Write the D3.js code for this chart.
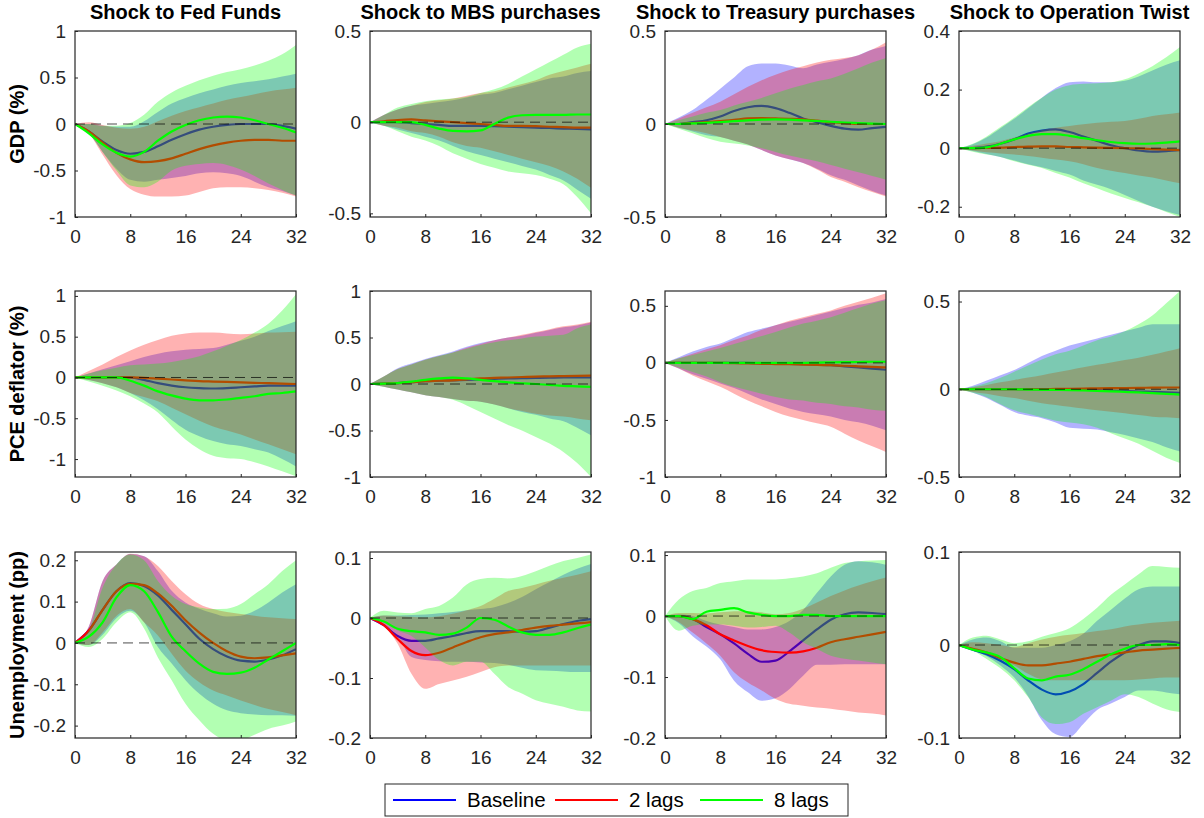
<!DOCTYPE html>
<html><head><meta charset="utf-8">
<script src="https://cdn.jsdelivr.net/npm/d3@7"></script>
<style>
body{margin:0;background:#fff}
svg{display:block}
text{font-family:"Liberation Sans",Arial,Helvetica,sans-serif}
</style>
</head><body>
<svg id="c" width="1204" height="818"></svg>
<script>
// ---------- categories / labels ----------
const quarters = [0,2,4,6,8,10,12,14,16,18,20,22,24,26,28,30,32];
const colTitles = ["Shock to Fed Funds","Shock to MBS purchases","Shock to Treasury purchases","Shock to Operation Twist"];
const rowLabels = ["GDP (%)","PCE deflator (%)","Unemployment (pp)"];
const seriesNames = ["Baseline","2 lags","8 lags"];
const seriesColors = ["#0000ff","#ff0000","#00ff00"];
const xTicks = [0,8,16,24,32];

// y domains and ticks, row-major
const yDomains = [[-1,1],[-0.52,0.5],[-0.5,0.5],[-0.235,0.4],
                  [-1.22,1.06],[-1,1],[-1,0.63],[-0.5,0.56],
                  [-0.23,0.22],[-0.2,0.11],[-0.2,0.105],[-0.1,0.1]];
const yTicks = [[-1,-0.5,0,0.5,1],[-0.5,0,0.5],[-0.5,0,0.5],[-0.2,0,0.2,0.4],
                [-1,-0.5,0,0.5,1],[-1,-0.5,0,0.5,1],[-1,-0.5,0,0.5],[-0.5,0,0.5],
                [-0.2,-0.1,0,0.1,0.2],[-0.2,-0.1,0,0.1],[-0.2,-0.1,0,0.1],[-0.1,0,0.1]];

// ---------- GDP, Fed Funds ----------
const gdp_ff_base_mid = [0,-0.08,-0.19,-0.28,-0.32,-0.3,-0.24,-0.17,-0.11,-0.06,-0.03,-0.01,0.0,0.0,0.0,-0.02,-0.05];
const gdp_ff_base_lo  = [0,-0.1,-0.3,-0.48,-0.6,-0.62,-0.6,-0.58,-0.56,-0.53,-0.52,-0.53,-0.56,-0.62,-0.68,-0.72,-0.77];
const gdp_ff_base_hi  = [0,0,-0.02,-0.03,-0.03,0.03,0.13,0.22,0.28,0.33,0.37,0.41,0.44,0.46,0.48,0.51,0.54];
const gdp_ff_l2_mid = [0,-0.08,-0.2,-0.31,-0.38,-0.41,-0.4,-0.37,-0.32,-0.27,-0.23,-0.2,-0.18,-0.17,-0.17,-0.18,-0.18];
const gdp_ff_l2_lo  = [0,-0.1,-0.33,-0.55,-0.7,-0.76,-0.78,-0.78,-0.77,-0.73,-0.69,-0.68,-0.68,-0.69,-0.71,-0.74,-0.78];
const gdp_ff_l2_hi  = [0,0.02,-0.01,-0.04,-0.05,-0.03,0.03,0.09,0.14,0.18,0.22,0.26,0.29,0.32,0.35,0.37,0.39];
const gdp_ff_l8_mid = [0,-0.1,-0.22,-0.31,-0.35,-0.3,-0.18,-0.08,-0.01,0.04,0.07,0.08,0.07,0.04,0.0,-0.04,-0.09];
const gdp_ff_l8_lo  = [0,-0.1,-0.3,-0.5,-0.66,-0.68,-0.62,-0.5,-0.45,-0.43,-0.42,-0.44,-0.49,-0.56,-0.64,-0.71,-0.77];
const gdp_ff_l8_hi  = [0,0,-0.02,-0.02,0.01,0.1,0.24,0.34,0.41,0.47,0.52,0.56,0.59,0.63,0.68,0.75,0.85];

// ---------- GDP, MBS ----------
const gdp_mbs_base_mid = [0,0,0,-0.005,-0.01,-0.015,-0.02,-0.02,-0.02,-0.022,-0.025,-0.027,-0.03,-0.032,-0.035,-0.037,-0.04];
const gdp_mbs_base_lo  = [0,-0.02,-0.04,-0.06,-0.08,-0.1,-0.13,-0.16,-0.18,-0.2,-0.22,-0.24,-0.26,-0.29,-0.32,-0.37,-0.42];
const gdp_mbs_base_hi  = [0,0.04,0.07,0.09,0.1,0.11,0.12,0.135,0.15,0.16,0.18,0.2,0.22,0.24,0.25,0.27,0.28];
const gdp_mbs_l2_mid = [0,0.005,0.012,0.015,0.01,0.005,0,-0.005,-0.01,-0.015,-0.02,-0.02,-0.022,-0.025,-0.027,-0.03,-0.03];
const gdp_mbs_l2_lo  = [0,-0.02,-0.03,-0.05,-0.06,-0.08,-0.11,-0.13,-0.14,-0.16,-0.18,-0.2,-0.22,-0.24,-0.27,-0.31,-0.36];
const gdp_mbs_l2_hi  = [0,0.04,0.07,0.09,0.11,0.12,0.13,0.145,0.16,0.17,0.19,0.21,0.23,0.26,0.28,0.3,0.32];
const gdp_mbs_l8_mid = [0,0,0,0,-0.015,-0.035,-0.048,-0.05,-0.045,-0.01,0.025,0.038,0.04,0.04,0.04,0.042,0.042];
const gdp_mbs_l8_lo  = [0,-0.02,-0.05,-0.08,-0.1,-0.13,-0.17,-0.2,-0.23,-0.25,-0.27,-0.28,-0.29,-0.31,-0.34,-0.41,-0.5];
const gdp_mbs_l8_hi  = [0,0.04,0.08,0.1,0.115,0.125,0.13,0.14,0.16,0.18,0.21,0.25,0.29,0.33,0.37,0.41,0.43];

// ---------- GDP, Treasury ----------
const gdp_tsy_base_mid = [0,0.0,0.01,0.02,0.04,0.07,0.09,0.097,0.085,0.06,0.03,0.01,-0.01,-0.025,-0.03,-0.022,-0.015];
const gdp_tsy_base_lo  = [0,-0.02,-0.04,-0.06,-0.07,-0.09,-0.11,-0.14,-0.17,-0.19,-0.21,-0.24,-0.275,-0.3,-0.33,-0.36,-0.385];
const gdp_tsy_base_hi  = [0,0.035,0.075,0.13,0.19,0.25,0.31,0.325,0.325,0.315,0.3,0.32,0.335,0.35,0.37,0.4,0.42];
const gdp_tsy_l2_mid = [0,0.0,0.005,0.01,0.015,0.022,0.03,0.032,0.03,0.028,0.025,0.018,0.01,0.005,0.0,0.0,0.0];
const gdp_tsy_l2_lo  = [0,-0.02,-0.035,-0.05,-0.07,-0.09,-0.11,-0.14,-0.17,-0.19,-0.21,-0.245,-0.285,-0.31,-0.34,-0.365,-0.39];
const gdp_tsy_l2_hi  = [0,0.03,0.06,0.09,0.12,0.16,0.2,0.235,0.265,0.29,0.31,0.33,0.345,0.355,0.37,0.4,0.44];
const gdp_tsy_l8_mid = [0,0.0,0.003,0.006,0.01,0.015,0.02,0.023,0.025,0.023,0.02,0.016,0.012,0.008,0.005,0.002,0.0];
const gdp_tsy_l8_lo  = [0,-0.025,-0.05,-0.075,-0.095,-0.105,-0.115,-0.13,-0.15,-0.17,-0.185,-0.2,-0.22,-0.24,-0.26,-0.28,-0.3];
const gdp_tsy_l8_hi  = [0,0.02,0.04,0.06,0.075,0.1,0.12,0.14,0.165,0.19,0.21,0.23,0.245,0.27,0.3,0.33,0.355];

// ---------- GDP, Operation Twist ----------
const gdp_ot_base_mid = [0,0.0,0.005,0.015,0.03,0.05,0.06,0.064,0.055,0.04,0.025,0.01,0.0,-0.008,-0.012,-0.01,-0.006];
const gdp_ot_base_lo  = [0,-0.01,-0.02,-0.03,-0.042,-0.055,-0.065,-0.078,-0.09,-0.11,-0.125,-0.14,-0.16,-0.18,-0.2,-0.215,-0.228];
const gdp_ot_base_hi  = [0,0.013,0.036,0.068,0.1,0.136,0.172,0.205,0.225,0.228,0.225,0.225,0.23,0.245,0.265,0.285,0.3];
const gdp_ot_l2_mid = [0,0,0.001,0.002,0.004,0.005,0.006,0.006,0.004,0.003,0.002,0.001,0,-0.001,-0.003,-0.005,-0.007];
const gdp_ot_l2_lo  = [0,-0.008,-0.014,-0.018,-0.022,-0.027,-0.033,-0.039,-0.045,-0.055,-0.068,-0.077,-0.085,-0.093,-0.1,-0.11,-0.12];
const gdp_ot_l2_hi  = [0,0.008,0.016,0.024,0.036,0.05,0.062,0.07,0.076,0.082,0.087,0.09,0.093,0.1,0.11,0.116,0.122];
const gdp_ot_l8_mid = [0,0,0.003,0.015,0.03,0.042,0.048,0.048,0.042,0.034,0.027,0.021,0.017,0.015,0.016,0.019,0.023];
const gdp_ot_l8_lo  = [0,-0.012,-0.022,-0.03,-0.045,-0.057,-0.068,-0.085,-0.1,-0.12,-0.137,-0.155,-0.17,-0.185,-0.2,-0.218,-0.235];
const gdp_ot_l8_hi  = [0,0.015,0.04,0.072,0.105,0.14,0.172,0.2,0.215,0.22,0.222,0.225,0.235,0.255,0.28,0.31,0.345];

// ---------- PCE, Fed Funds ----------
const pce_ff_base_mid = [0,0,0,0,0,-0.03,-0.07,-0.1,-0.12,-0.13,-0.135,-0.13,-0.12,-0.11,-0.1,-0.1,-0.1];
const pce_ff_base_lo  = [0,-0.03,-0.07,-0.12,-0.19,-0.28,-0.39,-0.52,-0.64,-0.72,-0.78,-0.82,-0.84,-0.88,-0.92,-1.0,-1.09];
const pce_ff_base_hi  = [0,0.05,0.1,0.15,0.2,0.25,0.29,0.32,0.34,0.35,0.36,0.4,0.45,0.5,0.57,0.63,0.69];
const pce_ff_l2_mid = [0,0,0,0,0,-0.005,-0.015,-0.025,-0.035,-0.045,-0.05,-0.055,-0.06,-0.065,-0.07,-0.075,-0.08];
const pce_ff_l2_lo  = [0,-0.03,-0.07,-0.12,-0.19,-0.24,-0.29,-0.37,-0.45,-0.53,-0.6,-0.65,-0.7,-0.76,-0.82,-0.88,-0.94];
const pce_ff_l2_hi  = [0,0.08,0.16,0.25,0.33,0.4,0.46,0.51,0.54,0.55,0.55,0.54,0.53,0.54,0.55,0.555,0.56];
const pce_ff_l8_mid = [0,0,0,0,-0.04,-0.1,-0.17,-0.22,-0.26,-0.28,-0.28,-0.27,-0.25,-0.23,-0.2,-0.19,-0.17];
const pce_ff_l8_lo  = [0,-0.05,-0.1,-0.16,-0.23,-0.32,-0.43,-0.6,-0.76,-0.88,-0.96,-0.99,-1.0,-1.04,-1.09,-1.15,-1.21];
const pce_ff_l8_hi  = [0,0.05,0.09,0.12,0.15,0.16,0.17,0.19,0.22,0.26,0.32,0.39,0.46,0.55,0.66,0.82,1.02];

// ---------- PCE, MBS ----------
const pce_mbs_base_mid = [0,0.005,0.01,0.02,0.03,0.035,0.04,0.045,0.05,0.055,0.06,0.063,0.066,0.068,0.07,0.07,0.07];
const pce_mbs_base_lo  = [0,-0.03,-0.06,-0.09,-0.12,-0.14,-0.16,-0.18,-0.19,-0.22,-0.26,-0.3,-0.33,-0.37,-0.4,-0.47,-0.55];
const pce_mbs_base_hi  = [0,0.08,0.17,0.22,0.27,0.31,0.35,0.4,0.44,0.47,0.5,0.52,0.55,0.58,0.61,0.63,0.66];
const pce_mbs_l2_mid = [0,0.005,0.01,0.02,0.03,0.035,0.04,0.05,0.06,0.065,0.07,0.075,0.08,0.082,0.085,0.088,0.09];
const pce_mbs_l2_lo  = [0,-0.03,-0.06,-0.09,-0.12,-0.14,-0.16,-0.18,-0.19,-0.22,-0.26,-0.29,-0.32,-0.34,-0.35,-0.37,-0.39];
const pce_mbs_l2_hi  = [0,0.08,0.16,0.21,0.26,0.3,0.34,0.39,0.43,0.47,0.5,0.53,0.56,0.59,0.62,0.64,0.67];
const pce_mbs_l8_mid = [0,0.003,0.01,0.025,0.045,0.06,0.068,0.06,0.045,0.03,0.018,0.008,0.0,-0.01,-0.02,-0.025,-0.03];
const pce_mbs_l8_lo  = [0,-0.03,-0.06,-0.09,-0.12,-0.14,-0.17,-0.23,-0.3,-0.37,-0.44,-0.5,-0.57,-0.64,-0.73,-0.85,-1.0];
const pce_mbs_l8_hi  = [0,0.08,0.16,0.21,0.26,0.3,0.34,0.38,0.42,0.45,0.47,0.49,0.51,0.52,0.53,0.6,0.64];

// ---------- PCE, Treasury ----------
const pce_tsy_base_mid = [0,0,0,0,0,0,0,-0.003,-0.005,-0.008,-0.012,-0.016,-0.02,-0.03,-0.04,-0.05,-0.06];
const pce_tsy_base_lo  = [0,-0.05,-0.1,-0.14,-0.18,-0.22,-0.27,-0.32,-0.36,-0.4,-0.43,-0.45,-0.47,-0.5,-0.52,-0.55,-0.59];
const pce_tsy_base_hi  = [0,0.05,0.1,0.14,0.17,0.22,0.27,0.3,0.33,0.36,0.39,0.42,0.45,0.48,0.51,0.53,0.56];
const pce_tsy_l2_mid = [0,0,0,0,0,-0.003,-0.005,-0.008,-0.01,-0.012,-0.015,-0.018,-0.02,-0.025,-0.03,-0.035,-0.04];
const pce_tsy_l2_lo  = [0,-0.05,-0.11,-0.16,-0.21,-0.27,-0.33,-0.38,-0.43,-0.47,-0.5,-0.53,-0.56,-0.62,-0.68,-0.73,-0.78];
const pce_tsy_l2_hi  = [0,0.04,0.08,0.12,0.155,0.2,0.24,0.29,0.33,0.37,0.4,0.43,0.46,0.5,0.535,0.57,0.61];
const pce_tsy_l8_mid = [0,0,0,0,0,0,0,0,0,0,0,0.003,0.005,0.007,0.008,0.01,0.01];
const pce_tsy_l8_lo  = [0,-0.04,-0.08,-0.12,-0.17,-0.21,-0.24,-0.27,-0.3,-0.32,-0.33,-0.35,-0.36,-0.38,-0.39,-0.41,-0.42];
const pce_tsy_l8_hi  = [0,0.04,0.07,0.1,0.13,0.165,0.2,0.235,0.27,0.31,0.345,0.37,0.4,0.44,0.48,0.52,0.55];

// ---------- PCE, Operation Twist ----------
const pce_ot_base_mid = [0,0,0,0,0,0,0,0,0,-0.002,-0.005,-0.008,-0.01,-0.013,-0.015,-0.018,-0.02];
const pce_ot_base_lo  = [0,-0.02,-0.05,-0.09,-0.13,-0.15,-0.165,-0.19,-0.22,-0.225,-0.23,-0.245,-0.26,-0.28,-0.3,-0.33,-0.355];
const pce_ot_base_hi  = [0,0.02,0.05,0.08,0.11,0.15,0.19,0.22,0.25,0.27,0.29,0.31,0.33,0.35,0.37,0.37,0.37];
const pce_ot_l2_mid = [0,0,0,0,0,0,0,0.002,0.003,0.004,0.005,0.006,0.007,0.008,0.009,0.01,0.01];
const pce_ot_l2_lo  = [0,-0.015,-0.025,-0.04,-0.05,-0.065,-0.08,-0.09,-0.1,-0.11,-0.12,-0.128,-0.137,-0.147,-0.156,-0.16,-0.165];
const pce_ot_l2_hi  = [0,0.012,0.025,0.04,0.053,0.067,0.08,0.095,0.11,0.125,0.14,0.153,0.167,0.18,0.196,0.215,0.234];
const pce_ot_l8_mid = [0,0,0,0,0,-0.002,-0.003,-0.004,-0.005,-0.007,-0.01,-0.012,-0.015,-0.018,-0.022,-0.026,-0.03];
const pce_ot_l8_lo  = [0,-0.02,-0.045,-0.085,-0.12,-0.14,-0.16,-0.18,-0.19,-0.2,-0.22,-0.25,-0.28,-0.31,-0.35,-0.39,-0.42];
const pce_ot_l8_hi  = [0,0.015,0.035,0.065,0.1,0.135,0.17,0.2,0.22,0.25,0.28,0.3,0.33,0.37,0.42,0.49,0.56];

// ---------- Unemployment, Fed Funds ----------
const un_ff_base_mid = [0,0.03,0.08,0.125,0.145,0.138,0.115,0.08,0.045,0.01,-0.015,-0.033,-0.043,-0.045,-0.04,-0.03,-0.015];
const un_ff_base_lo  = [0,-0.005,0.02,0.06,0.078,0.05,-0.01,-0.05,-0.09,-0.123,-0.147,-0.163,-0.17,-0.173,-0.175,-0.175,-0.176];
const un_ff_base_hi  = [0,0.04,0.15,0.19,0.215,0.21,0.174,0.126,0.098,0.083,0.072,0.064,0.066,0.078,0.098,0.122,0.142];
const un_ff_l2_mid = [0,0.03,0.08,0.125,0.143,0.14,0.12,0.09,0.055,0.025,0.0,-0.02,-0.033,-0.037,-0.035,-0.03,-0.025];
const un_ff_l2_lo  = [0,-0.005,0.025,0.065,0.082,0.05,0.018,-0.026,-0.067,-0.095,-0.115,-0.127,-0.139,-0.15,-0.16,-0.167,-0.175];
const un_ff_l2_hi  = [0,0.04,0.15,0.19,0.216,0.21,0.186,0.15,0.118,0.094,0.082,0.075,0.07,0.066,0.062,0.06,0.058];
const un_ff_l8_mid = [0,0.015,0.05,0.11,0.14,0.125,0.075,0.015,-0.02,-0.05,-0.07,-0.075,-0.072,-0.06,-0.04,-0.02,0.0];
const un_ff_l8_lo  = [0,-0.01,0.01,0.05,0.074,0.035,-0.035,-0.09,-0.147,-0.187,-0.22,-0.235,-0.235,-0.222,-0.208,-0.2,-0.19];
const un_ff_l8_hi  = [0,0.03,0.134,0.19,0.214,0.2,0.15,0.114,0.094,0.086,0.082,0.083,0.094,0.118,0.142,0.174,0.2];

// ---------- Unemployment, MBS ----------
const un_mbs_base_mid = [0,-0.012,-0.03,-0.038,-0.038,-0.034,-0.03,-0.025,-0.022,-0.022,-0.022,-0.023,-0.022,-0.016,-0.01,-0.005,-0.002];
const un_mbs_base_lo  = [0,-0.01,-0.03,-0.065,-0.07,-0.072,-0.073,-0.073,-0.074,-0.075,-0.078,-0.083,-0.087,-0.088,-0.089,-0.09,-0.09];
const un_mbs_base_hi  = [0,0.004,0.004,0.005,0.006,0.008,0.01,0.013,0.015,0.018,0.025,0.035,0.048,0.06,0.072,0.082,0.09];
const un_mbs_l2_mid = [0,-0.012,-0.035,-0.055,-0.062,-0.058,-0.049,-0.04,-0.032,-0.027,-0.024,-0.02,-0.016,-0.013,-0.011,-0.009,-0.007];
const un_mbs_l2_lo  = [0,-0.012,-0.043,-0.093,-0.118,-0.11,-0.104,-0.098,-0.09,-0.082,-0.079,-0.079,-0.079,-0.079,-0.079,-0.079,-0.079];
const un_mbs_l2_hi  = [0,0.004,0.003,0.002,0.001,0.003,0.007,0.013,0.02,0.032,0.045,0.05,0.056,0.062,0.067,0.072,0.078];
const un_mbs_l8_mid = [0,-0.006,-0.018,-0.022,-0.024,-0.028,-0.026,-0.016,0.0,-0.003,-0.014,-0.024,-0.028,-0.028,-0.024,-0.017,-0.011];
const un_mbs_l8_lo  = [0,-0.006,-0.021,-0.03,-0.049,-0.07,-0.079,-0.073,-0.073,-0.093,-0.115,-0.126,-0.137,-0.143,-0.148,-0.154,-0.156];
const un_mbs_l8_hi  = [0,0.012,0.009,0.008,0.015,0.02,0.034,0.056,0.065,0.067,0.066,0.07,0.078,0.087,0.095,0.1,0.106];

// ---------- Unemployment, Treasury ----------
const un_tsy_base_mid = [0,0.0,-0.005,-0.018,-0.03,-0.045,-0.062,-0.075,-0.073,-0.058,-0.04,-0.022,-0.006,0.003,0.006,0.005,0.003];
const un_tsy_base_lo  = [0,-0.012,-0.033,-0.05,-0.071,-0.106,-0.125,-0.139,-0.135,-0.12,-0.098,-0.08,-0.08,-0.079,-0.079,-0.079,-0.079];
const un_tsy_base_hi  = [0,0.003,0.0,-0.008,-0.014,-0.018,-0.022,-0.022,-0.018,-0.008,0.01,0.038,0.065,0.084,0.09,0.088,0.084];
const un_tsy_l2_mid = [0,0,-0.005,-0.015,-0.03,-0.04,-0.049,-0.056,-0.059,-0.06,-0.058,-0.052,-0.043,-0.038,-0.034,-0.03,-0.026];
const un_tsy_l2_lo  = [0,-0.01,-0.027,-0.045,-0.065,-0.092,-0.109,-0.122,-0.136,-0.144,-0.147,-0.15,-0.152,-0.155,-0.158,-0.16,-0.163];
const un_tsy_l2_hi  = [0,0.005,0.005,0.004,0.006,0.008,0.008,0.006,0.003,0.005,0.012,0.022,0.033,0.042,0.05,0.057,0.063];
const un_tsy_l8_mid = [0,0.0,-0.005,0.007,0.01,0.013,0.006,0.002,0.0,0.0,0.002,0.002,0.0,0.0,0.0,0.0,0.0];
const un_tsy_l8_lo  = [0,-0.024,-0.016,-0.014,-0.014,-0.016,-0.019,-0.018,-0.016,-0.027,-0.043,-0.054,-0.065,-0.07,-0.073,-0.076,-0.079];
const un_tsy_l8_hi  = [0,0.027,0.041,0.046,0.054,0.057,0.06,0.06,0.06,0.062,0.065,0.07,0.079,0.087,0.09,0.091,0.092];

// ---------- Unemployment, Operation Twist ----------
const un_ot_base_mid = [0,-0.005,-0.01,-0.017,-0.026,-0.038,-0.048,-0.053,-0.05,-0.042,-0.03,-0.018,-0.008,0.0,0.004,0.004,0.002];
const un_ot_base_lo  = [0,-0.005,-0.012,-0.022,-0.035,-0.055,-0.081,-0.096,-0.099,-0.085,-0.07,-0.063,-0.056,-0.049,-0.049,-0.051,-0.053];
const un_ot_base_hi  = [0,0.006,0.008,0.004,-0.003,-0.003,-0.003,0.0,0.004,0.012,0.026,0.038,0.05,0.06,0.063,0.063,0.063];
const un_ot_l2_mid = [0,-0.004,-0.008,-0.014,-0.019,-0.022,-0.022,-0.02,-0.018,-0.015,-0.012,-0.01,-0.008,-0.006,-0.005,-0.004,-0.003];
const un_ot_l2_lo  = [0,-0.004,-0.01,-0.016,-0.022,-0.031,-0.037,-0.038,-0.038,-0.038,-0.038,-0.038,-0.038,-0.037,-0.036,-0.035,-0.035];
const un_ot_l2_hi  = [0,0.003,0.002,0.0,-0.002,0.002,0.006,0.009,0.011,0.013,0.015,0.017,0.02,0.022,0.024,0.025,0.026];
const un_ot_l8_mid = [0,-0.005,-0.008,-0.013,-0.025,-0.036,-0.038,-0.034,-0.032,-0.026,-0.018,-0.01,-0.004,0.0,0.0,0.001,0.0];
const un_ot_l8_lo  = [0,-0.006,-0.015,-0.025,-0.038,-0.056,-0.078,-0.085,-0.083,-0.074,-0.067,-0.06,-0.053,-0.056,-0.063,-0.069,-0.072];
const un_ot_l8_hi  = [0,0.008,0.01,0.006,0.002,0.004,0.009,0.013,0.018,0.028,0.04,0.054,0.065,0.076,0.085,0.084,0.083];

// ---------- assemble panels (row-major) ----------
const panelSeries = [
  [[gdp_ff_base_mid,gdp_ff_base_lo,gdp_ff_base_hi],[gdp_ff_l2_mid,gdp_ff_l2_lo,gdp_ff_l2_hi],[gdp_ff_l8_mid,gdp_ff_l8_lo,gdp_ff_l8_hi]],
  [[gdp_mbs_base_mid,gdp_mbs_base_lo,gdp_mbs_base_hi],[gdp_mbs_l2_mid,gdp_mbs_l2_lo,gdp_mbs_l2_hi],[gdp_mbs_l8_mid,gdp_mbs_l8_lo,gdp_mbs_l8_hi]],
  [[gdp_tsy_base_mid,gdp_tsy_base_lo,gdp_tsy_base_hi],[gdp_tsy_l2_mid,gdp_tsy_l2_lo,gdp_tsy_l2_hi],[gdp_tsy_l8_mid,gdp_tsy_l8_lo,gdp_tsy_l8_hi]],
  [[gdp_ot_base_mid,gdp_ot_base_lo,gdp_ot_base_hi],[gdp_ot_l2_mid,gdp_ot_l2_lo,gdp_ot_l2_hi],[gdp_ot_l8_mid,gdp_ot_l8_lo,gdp_ot_l8_hi]],
  [[pce_ff_base_mid,pce_ff_base_lo,pce_ff_base_hi],[pce_ff_l2_mid,pce_ff_l2_lo,pce_ff_l2_hi],[pce_ff_l8_mid,pce_ff_l8_lo,pce_ff_l8_hi]],
  [[pce_mbs_base_mid,pce_mbs_base_lo,pce_mbs_base_hi],[pce_mbs_l2_mid,pce_mbs_l2_lo,pce_mbs_l2_hi],[pce_mbs_l8_mid,pce_mbs_l8_lo,pce_mbs_l8_hi]],
  [[pce_tsy_base_mid,pce_tsy_base_lo,pce_tsy_base_hi],[pce_tsy_l2_mid,pce_tsy_l2_lo,pce_tsy_l2_hi],[pce_tsy_l8_mid,pce_tsy_l8_lo,pce_tsy_l8_hi]],
  [[pce_ot_base_mid,pce_ot_base_lo,pce_ot_base_hi],[pce_ot_l2_mid,pce_ot_l2_lo,pce_ot_l2_hi],[pce_ot_l8_mid,pce_ot_l8_lo,pce_ot_l8_hi]],
  [[un_ff_base_mid,un_ff_base_lo,un_ff_base_hi],[un_ff_l2_mid,un_ff_l2_lo,un_ff_l2_hi],[un_ff_l8_mid,un_ff_l8_lo,un_ff_l8_hi]],
  [[un_mbs_base_mid,un_mbs_base_lo,un_mbs_base_hi],[un_mbs_l2_mid,un_mbs_l2_lo,un_mbs_l2_hi],[un_mbs_l8_mid,un_mbs_l8_lo,un_mbs_l8_hi]],
  [[un_tsy_base_mid,un_tsy_base_lo,un_tsy_base_hi],[un_tsy_l2_mid,un_tsy_l2_lo,un_tsy_l2_hi],[un_tsy_l8_mid,un_tsy_l8_lo,un_tsy_l8_hi]],
  [[un_ot_base_mid,un_ot_base_lo,un_ot_base_hi],[un_ot_l2_mid,un_ot_l2_lo,un_ot_l2_hi],[un_ot_l8_mid,un_ot_l8_lo,un_ot_l8_hi]]
];

// ---------- layout ----------
const colX = [75, 370, 665, 959];
const rowY = [31, 291, 552];
const PW = 221, PH = 186;
const axisColor = "#262626";
const tickFont = "19px", titleFont = "20px", labelFont = "20px", legendFont = "20.5px";

const svg = d3.select("#c");
const x = d3.scaleLinear().domain([0, 32]).range([0, PW]);

panelSeries.forEach((series, idx) => {
  const r = Math.floor(idx / 4), c = idx % 4;
  const g = svg.append("g").attr("transform", `translate(${colX[c]},${rowY[r]})`);
  const y = d3.scaleLinear().domain(yDomains[idx]).range([PH, 0]);
  const clipId = "clip" + idx;
  g.append("clipPath").attr("id", clipId).append("rect").attr("width", PW).attr("height", PH);
  const plot = g.append("g").attr("clip-path", `url(#${clipId})`);

  series.forEach((s, k) => {
    const rows = quarters.map((q, j) => ({q, m: s[0][j], lo: s[1][j], hi: s[2][j]}));
    plot.append("path").datum(rows)
      .attr("d", d3.area().x(d => x(d.q)).y0(d => y(d.lo)).y1(d => y(d.hi)).curve(d3.curveMonotoneX))
      .attr("fill", seriesColors[k]).attr("fill-opacity", 0.3).attr("stroke", "none");
    plot.append("path").datum(rows)
      .attr("d", d3.line().x(d => x(d.q)).y(d => y(d.m)).curve(d3.curveMonotoneX))
      .attr("fill", "none").attr("stroke", seriesColors[k]).attr("stroke-width", 2.2);
  });

  plot.append("line").attr("x1", 0).attr("x2", PW).attr("y1", y(0)).attr("y2", y(0))
    .attr("stroke", "#000").attr("stroke-width", 1).attr("stroke-dasharray", "10,6").attr("stroke-opacity", 0.7);

  // axes
  const ax = g.append("g").attr("transform", `translate(0,${PH})`)
    .call(d3.axisBottom(x).tickValues(xTicks).tickSize(-3).tickSizeOuter(0).tickPadding(13).tickFormat(d => String(d)));
  const ay = g.append("g")
    .call(d3.axisLeft(y).tickValues(yTicks[idx]).tickSize(-3).tickSizeOuter(0).tickPadding(9).tickFormat(d => String(d)));
  [ax, ay].forEach(a => {
    a.select(".domain").remove();
    a.selectAll("line").attr("stroke", axisColor);
    a.selectAll("text").attr("fill", axisColor).style("font-size", tickFont)
      .style("font-family", '"Liberation Sans",Arial,sans-serif');
  });
  g.append("rect").attr("width", PW).attr("height", PH).attr("fill", "none")
    .attr("stroke", axisColor).attr("stroke-width", 1.2);

  if (r === 0) {
    g.append("text").attr("x", PW / 2).attr("y", -12).attr("text-anchor", "middle")
      .style("font-size", titleFont).style("font-weight", "bold").attr("fill", "#000").text(colTitles[c]);
  }
  if (c === 0) {
    g.append("text").attr("transform", `translate(${-51},${PH / 2}) rotate(-90)`).attr("text-anchor", "middle")
      .style("font-size", labelFont).style("font-weight", "bold").attr("fill", "#000").text(rowLabels[r]);
  }
});

// ---------- legend ----------
const lg = svg.append("g").attr("transform", "translate(385,784)");
lg.append("rect").attr("width", 463).attr("height", 32).attr("fill", "#fff").attr("stroke", axisColor).attr("stroke-width", 1);
const legX = [8, 170, 315];
seriesNames.forEach((n, k) => {
  lg.append("line").attr("x1", legX[k]).attr("x2", legX[k] + 63).attr("y1", 16).attr("y2", 16)
    .attr("stroke", seriesColors[k]).attr("stroke-width", 2.2);
  lg.append("text").attr("x", legX[k] + 74).attr("y", 23).style("font-size", legendFont).attr("fill", "#000").text(n);
});
</script>
</body></html>
